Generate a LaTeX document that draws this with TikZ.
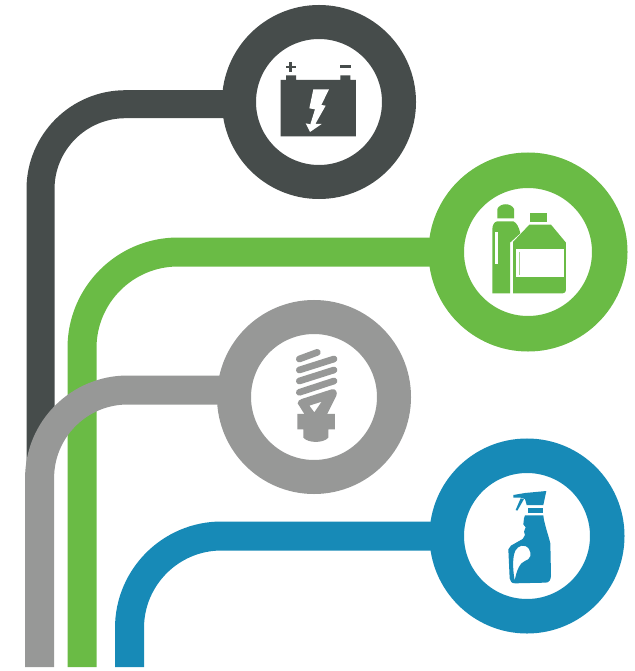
\documentclass[tikz,border=0pt]{standalone}
\usetikzlibrary{backgrounds,calc}
\definecolor{cdark}{HTML}{464C4B}
\definecolor{cgreen}{HTML}{6ABB45}
\definecolor{cgrey}{HTML}{979897}
\definecolor{cblue}{HTML}{178AB7}
\tikzset{
  ring/.style={circle,draw=#1,fill=white,inner sep=0pt,outer sep=0pt},
  pipe/.style={draw=#1,line width=29pt},
  zb/.style={shift={(260,40)},x=0.3333pt,y=-0.3333pt},
  zg/.style={shift={(470,190)},x=0.3333pt,y=-0.3333pt},
  zl/.style={shift={(260,335)},x=0.3333pt,y=-0.3333pt},
  zs/.style={shift={(480,480)},x=0.3333pt,y=-0.3333pt}
}
\begin{document}
\begin{tikzpicture}[x=1pt,y=-1pt]
\useasboundingbox (0,0) rectangle (634,671);
\node[ring=cdark,line width=34pt,minimum size=160pt] (bat) at (319,102) {};
\node[ring=cgreen,line width=35.5pt,minimum size=163.5pt] (cle) at (528,252) {};
\node[ring=cgrey,line width=34pt,minimum size=160pt] (lamp) at (314,397) {};
\node[ring=cblue,line width=34.5pt,minimum size=160.5pt] (spr) at (527,536) {};
\coordinate (e1) at (40.5,468);
\coordinate (e2) at (82,667);
\coordinate (e3) at (39.6,667);
\coordinate (e4) at (129.5,667);
\begin{scope}[on background layer]
\draw[pipe=cdark,line width=28pt,rounded corners=85pt] ($(bat.center)+(0,2.2)$) -- ($(bat.center -| e1)+(0,2.2)$) -- (e1);
\draw[pipe=cgreen,rounded corners=96pt] (cle.center) -- (cle.center -| e2) -- (e2);
\draw[pipe=cgrey,rounded corners=88pt] ($(lamp.center)+(0,-7)$) -- ($(lamp.center -| e3)+(0,-7)$) -- (e3);
\draw[pipe=cblue,rounded corners=92pt] (spr.center) -- (spr.center -| e4) -- (e4);
\end{scope}
% battery
\begin{scope}[zb]
\fill[cdark] (62,120)--(78,120)--(78,106)--(108,106)--(108,120)--(241,120)--(241,106)--(271,106)--(271,120)--(288,120)--(288,289)--(62,289)--cycle;
\fill[cdark] (88,66) rectangle (96,96);
\fill[cdark] (77,77) rectangle (107,85);
\fill[cdark] (241,75) rectangle (273,83);
\fill[white] (160,148)--(207,148)--(184,195)--(197,197)--(166,252)--(185,252)--(150,276)--(137,250)--(151,253)--(165,208)--(148,205)--cycle;
\end{scope}
% bottles
\begin{scope}[zg]
\fill[cgreen] (82,85)--(82,57) .. controls (90,38) and (124,38) .. (132,57)--(132,85)--cycle;
\fill[cgreen] (67,310)--(67,118) .. controls (67,105) and (73,95) .. (82,94)--(130,94) .. controls (140,98) and (147,112) .. (151,130)--(120,158)--(120,310)--cycle;
\fill[white] (76,125) rectangle (83,222);
\fill[cgreen] (180,70) rectangle (232,97);
\fill[cgreen] (178,104)--(243,104)--(288,158)--(288,300) .. controls (288,306) and (284,310) .. (278,310)--(129,310)--(129,156)--cycle;
\fill[white] (138,178) rectangle (282,262);
\fill[cgreen!60] (146,186) rectangle (149,254);
\end{scope}
% bulb
\begin{scope}[zl]
\begin{scope}[draw=cgrey,line width=6.7pt,line cap=round]
\draw (118,72)--(172,52);
\draw (118,105)--(222,72);
\draw (118,138)--(222,105);
\draw (118,172)--(222,138);
\end{scope}
\fill[cgrey,even odd rule] (113,205) .. controls (112,198) and (120,194) .. (125,192)--(215,163) .. controls (228,160) and (233,172) .. (229,182)--(200,240)--(135,240)--cycle
 (148,212)--(185,200)--(163,232)--cycle;
\fill[cgrey] (112,237)--(225,237)--(225,283)--(205,283)--(205,308) .. controls (190,325) and (145,325) .. (130,308)--(130,283)--(112,283)--cycle;
\end{scope}
% spray
\begin{scope}[zs]
\fill[cblue] (100,45)--(135,39)--(199,33)--(190,75)--(140,75)--(135,57)--(122,53)--(100,53)--cycle;
\fill[cblue] (122,55)--(132,57)--(112,92)--(107,90)--cycle;
\fill[cblue] (145,85) rectangle (190,100);
\fill[cblue,even odd rule] (135,106)--(190,106) .. controls (192,130) and (205,165) .. (211,190)--(213,285) .. controls (213,300) and (207,308) .. (197,308)--(105,310) .. controls (95,310) and (90,304) .. (89,295)--(85,208) .. controls (88,198) and (97,194) .. (105,190)--(128,177)--(135,165)--(132,155)--(137,142)--(130,133)--(132,115)--cycle
 (104,302) .. controls (97,260) and (98,230) .. (106,212) .. controls (114,196) and (135,190) .. (147,207) .. controls (156,222) and (152,238) .. (135,243) .. controls (120,248) and (110,270) .. (104,302)--cycle;
\end{scope}
\end{tikzpicture}
\end{document}
